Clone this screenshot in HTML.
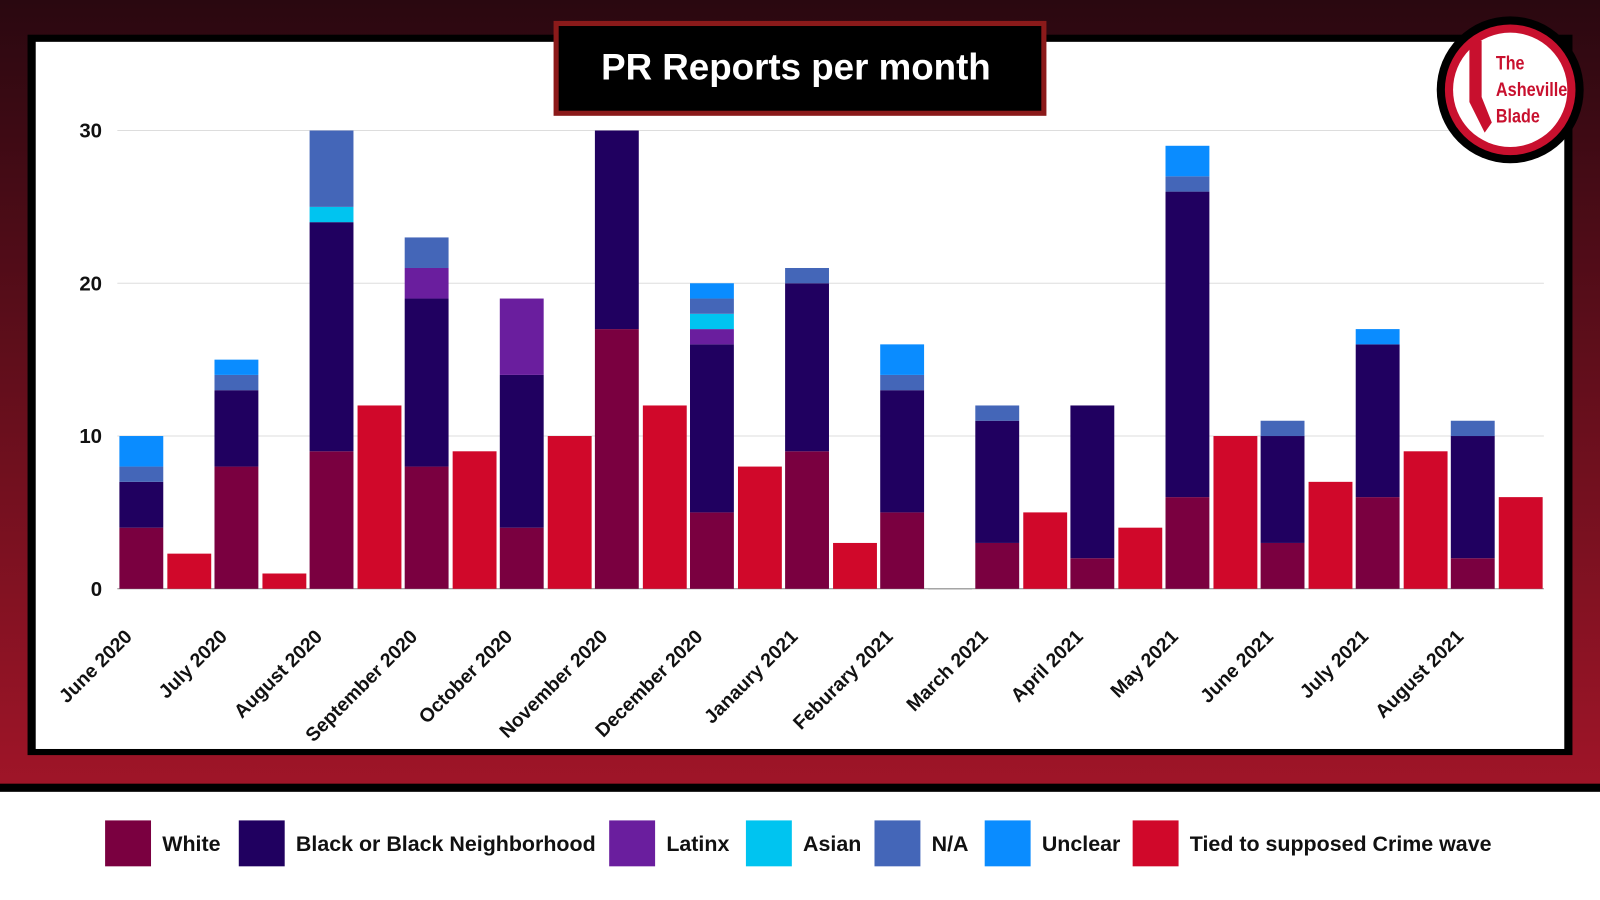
<!DOCTYPE html>
<html><head><meta charset="utf-8"><style>
html,body{margin:0;padding:0;width:1600px;height:900px;overflow:hidden;background:#fff;font-family:"Liberation Sans",sans-serif}
svg{display:block}
</style></head><body>
<svg width="1600" height="900" viewBox="0 0 1568 882" preserveAspectRatio="none" xmlns="http://www.w3.org/2000/svg">
<defs><linearGradient id="bg" x1="0" y1="0" x2="0" y2="1"><stop offset="0" stop-color="#2a0810"/><stop offset="1" stop-color="#a01528"/></linearGradient></defs>
<rect x="0" y="0" width="1568" height="775" fill="url(#bg)"/>
<rect x="27" y="34" width="1514" height="706" fill="#000"/>
<rect x="35" y="41" width="1498" height="693" fill="#fff"/>
<rect x="0" y="768" width="1568" height="8" fill="#000"/>
<g id="grid"></g>
<g id="bars"></g>
<g id="xl"></g>
<rect x="545" y="23" width="478" height="88" fill="#000" stroke="#8b1a1a" stroke-width="5"/>
<text x="780" y="78" text-anchor="middle" font-size="36" font-weight="bold" fill="#fff">PR Reports per month</text>
<g>
<circle cx="1480" cy="88" r="72" fill="#000"/>
<circle cx="1480" cy="88" r="64" fill="#c8102e"/>
<circle cx="1480" cy="88" r="56" fill="#fff"/>
<path d="M1440 40 L1452 40 L1452 95 L1462 120 L1455 130 L1440 100 Z" fill="#c8102e"/>
<text x="1466" y="68" font-size="19" font-weight="bold" fill="#c8102e" textLength="28" lengthAdjust="spacingAndGlyphs">The</text>
<text x="1466" y="94" font-size="19" font-weight="bold" fill="#c8102e" textLength="70" lengthAdjust="spacingAndGlyphs">Asheville</text>
<text x="1466" y="120" font-size="19" font-weight="bold" fill="#c8102e" textLength="43" lengthAdjust="spacingAndGlyphs">Blade</text>
</g>
<g id="legend"></g>
</svg>
<script>
const months=["June 2020","July 2020","August 2020","September 2020","October 2020","November 2020","December 2020","Janaury 2021","Feburary 2021","March 2021","April 2021","May 2021","June 2021","July 2021","August 2021"];
const white=[4,8,9,8,4,17,5,9,5,3,2,6,3,6,2];
const black=[3,5,15,11,10,13,11,11,8,8,10,20,7,10,8];
const latinx=[0,0,0,2,5,0,1,0,0,0,0,0,0,0,0];
const asian=[0,0,1,0,0,0,1,0,0,0,0,0,0,0,0];
const na=[1,1,5,2,0,0,1,1,1,1,0,1,1,0,1];
const unclear=[2,1,0,0,0,0,1,0,2,0,0,2,0,1,0];
const crime=[2.3,1,12,9,10,12,8,3,0,5,4,10,7,9,6];
const yTicks=[0,10,20,30];
const seriesNames=["White","Black or Black Neighborhood","Latinx","Asian","N/A","Unclear","Tied to supposed Crime wave"];
const colors=["#7a0040","#200060","#6a1e9e","#00c4f0","#4466b8","#0a8cff","#d0082a"];
const NS="http://www.w3.org/2000/svg";
const y0=577,ppu=14.97,x0=117,gw=93.2,bw=43;
const Y=v=>y0-v*ppu;
function mk(t,a,p){const e=document.createElementNS(NS,t);for(const k in a)e.setAttribute(k,a[k]);p.appendChild(e);return e;}
const grid=document.getElementById('grid');
yTicks.forEach(t=>{
 if(t>0){const l=mk('line',{x1:115,x2:1513,y1:Y(t),y2:Y(t),stroke:'#ddd','stroke-width':1},grid);
 
 }
 const tx=mk('text',{x:100,y:Y(t)+7,'text-anchor':'end','font-size':20,'font-weight':'bold',fill:'#111'},grid);tx.textContent=t;
 
 
});
mk('line',{x1:115,x2:1513,y1:y0,y2:y0,stroke:'#888','stroke-width':1},grid);
const bars=document.getElementById('bars');
const stacks=[white,black,latinx,asian,na,unclear];
months.forEach((m,i)=>{
 const x=x0+i*gw;let acc=0;
 stacks.forEach((s,k)=>{const v=s[i];if(v>0){
  const r=mk('rect',{x:x,y:Y(acc+v),width:bw,height:v*ppu,fill:colors[k]},bars);
  
  
  acc+=v;}});
 const c=mk('rect',{x:x+bw+4,y:Y(crime[i]),width:bw,height:Math.max(crime[i]*ppu,0.5),fill:crime[i]>0?colors[6]:'#888'},bars);
 
 
 const xl=document.getElementById('xl');
 const lx=x+bw/2-8,ly=625;
 const t=mk('text',{x:lx,y:ly,'text-anchor':'end','font-size':19,'font-weight':'bold',fill:'#111',transform:`rotate(-45 ${lx} ${ly})`},xl);
 t.textContent=m;
 
 
});
const lg=document.getElementById('legend');
const lxs=[103,234,597,731,857,965,1110];
seriesNames.forEach((n,k)=>{
 const r=mk('rect',{x:lxs[k],y:804,width:45,height:45,fill:colors[k]},lg);
 
 
 const t=mk('text',{x:lxs[k]+56,y:834,'font-size':21,'font-weight':'bold',fill:'#111'},lg);t.textContent=n;
 
 
});
</script>
</body></html>
